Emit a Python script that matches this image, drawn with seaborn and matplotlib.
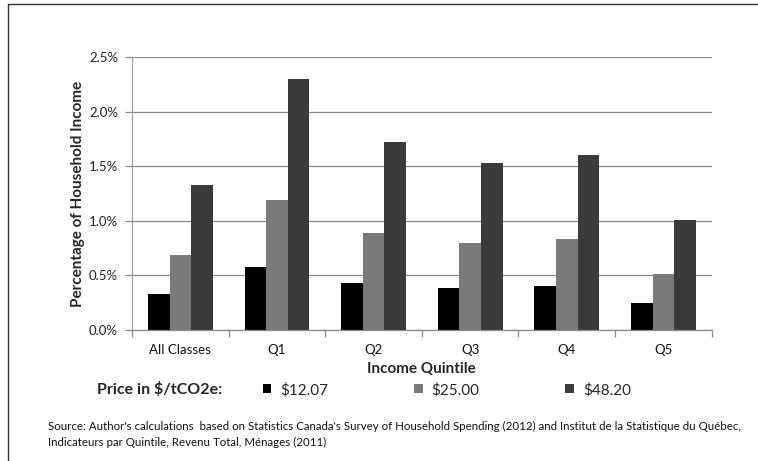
import matplotlib
matplotlib.use("Agg")
import matplotlib.pyplot as plt
import seaborn as sns
import pandas as pd
from matplotlib.ticker import FuncFormatter, MultipleLocator
from matplotlib.patches import Rectangle, Patch

categories = ["All Classes", "Q1", "Q2", "Q3", "Q4", "Q5"]
price_labels = ["$12.07", "$25.00", "$48.20"]
vals_1207 = [0.33, 0.575, 0.43, 0.385, 0.40, 0.245]
vals_2500 = [0.685, 1.195, 0.89, 0.795, 0.83, 0.517]
vals_4820 = [1.325, 2.305, 1.72, 1.535, 1.60, 1.005]
colors = ["#000000", "#7a7a7a", "#3b3b3b"]

rows = []
for lab, vals in zip(price_labels, [vals_1207, vals_2500, vals_4820]):
    for c, v in zip(categories, vals):
        rows.append({"Quintile": c, "Price": lab, "Value": v})
df = pd.DataFrame(rows)

sns.set_theme(style="white")
plt.rcParams['font.family'] = ['Lato', 'DejaVu Sans']

fig = plt.figure(figsize=(7.58, 4.61), dpi=100)
ax = fig.add_axes([132/758, 1-330/461, (711.7-132)/758, (330-57.3)/461])

sns.barplot(data=df, x="Quintile", y="Value", hue="Price", order=categories,
            hue_order=price_labels, palette=colors, width=0.67, gap=0,
            linewidth=0, saturation=1, legend=False, ax=ax)

ax.set_ylim(0, 2.5)
ax.set_xlim(-0.5, 5.5)
ax.yaxis.set_major_locator(MultipleLocator(0.5))
ax.yaxis.set_major_formatter(FuncFormatter(lambda v, p: f"{v:.1f}%"))
grid_c = "#8a8a8a"
ax.grid(axis="y", color=grid_c, linewidth=0.9)
ax.set_axisbelow(True)
for s in ["top", "right"]:
    ax.spines[s].set_visible(False)
ax.spines["left"].set_color("#a0a0a0")
ax.spines["left"].set_linewidth(0.9)
ax.spines["bottom"].set_color(grid_c)
ax.spines["bottom"].set_linewidth(0.9)

ax.tick_params(axis="y", which="major", left=True, length=5, width=0.9, color=grid_c,
               labelsize=9.5, labelcolor="#222222", pad=5)
ax.set_xticks(range(len(categories)))
ax.set_xticklabels(categories)
ax.tick_params(axis="x", which="major", bottom=False, labelsize=9.5, labelcolor="#111111", pad=4)
ax.set_xticks([i - 0.5 for i in range(len(categories) + 1)], minor=True)
ax.tick_params(axis="x", which="minor", bottom=True, length=5, width=0.9, color=grid_c)

ax.set_xlabel("")
ax.set_ylabel("Percentage of Household Income", fontsize=11, fontweight="bold", labelpad=3)
fig.text(421.8/758, 1-369/461, "Income Quintile", fontsize=11, fontweight="bold",
         ha="center", va="center")

fig.text(160/758, 1-390/461, "Price in $/tCO2e:", fontsize=11.5, fontweight="bold",
         ha="center", va="center")
handles = [Patch(facecolor=c, edgecolor="none") for c in colors]
fig.legend(handles, price_labels, ncol=3, loc="center left",
           bbox_to_anchor=(263/758, 1-390/461), frameon=False, fontsize=11,
           handlelength=0.55, handleheight=0.55, handletextpad=0.6,
           columnspacing=5.6, borderaxespad=0, borderpad=0)

fig.text(48/758, 1-426/461,
         "Source: Author's calculations  based on Statistics Canada's Survey of Household Spending (2012) and Institut de la Statistique du Québec,",
         fontsize=8.25, ha="left", va="center", color="#111111")
fig.text(48/758, 1-442/461,
         "Indicateurs par Quintile, Revenu Total, Ménages (2011)",
         fontsize=8.25, ha="left", va="center", color="#111111")

fig.patches.append(Rectangle((8/758, -0.1), 1.2, 1 - 4.5/461 + 0.1, transform=fig.transFigure,
                             fill=False, edgecolor="#333333", linewidth=1.0))

fig.savefig("out.png", dpi=100)
